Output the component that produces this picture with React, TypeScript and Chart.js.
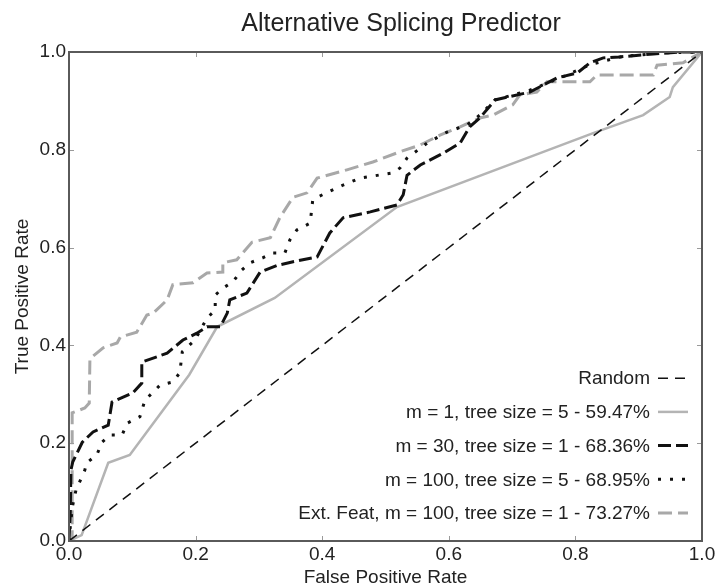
import React, { useEffect, useRef } from 'react';
import { Chart, registerables } from 'chart.js';

Chart.register(...registerables);

const FONT = '"Liberation Sans", Arial, Helvetica, sans-serif';

const chartTitle = 'Alternative Splicing Predictor';
const xAxisTitle = 'False Positive Rate';
const yAxisTitle = 'True Positive Rate';
const tickValues = [0, 0.2, 0.4, 0.6, 0.8, 1.0];

const seriesLabels = [
  'Random',
  'm = 1, tree size = 5 - 59.47%',
  'm = 30, tree size = 1 - 68.36%',
  'm = 100, tree size = 5 - 68.95%',
  'Ext. Feat, m = 100, tree size = 1 - 73.27%',
];

const randomX = [0, 1];
const randomY = [0, 1];

const m1X = [0, 0.02, 0.062, 0.096, 0.19, 0.234, 0.325, 0.518, 0.828, 0.907, 0.949, 0.954, 1];
const m1Y = [0, 0.012, 0.16, 0.176, 0.34, 0.438, 0.497, 0.683, 0.834, 0.871, 0.908, 0.928, 1];

const m30X = [0, 0.002, 0.003, 0.006, 0.021, 0.038, 0.062, 0.068, 0.101, 0.115, 0.115, 0.155, 0.18, 0.202, 0.218, 0.239, 0.25, 0.254, 0.281, 0.302, 0.33, 0.354, 0.392, 0.412, 0.433, 0.476, 0.518, 0.528, 0.534, 0.555, 0.591, 0.618, 0.633, 0.649, 0.673, 0.728, 0.771, 0.803, 0.823, 0.844, 0.87, 0.923, 0.965, 1];
const m30Y = [0, 0.06, 0.145, 0.162, 0.202, 0.223, 0.237, 0.284, 0.303, 0.323, 0.366, 0.384, 0.411, 0.425, 0.438, 0.438, 0.466, 0.493, 0.507, 0.55, 0.564, 0.571, 0.581, 0.63, 0.661, 0.673, 0.687, 0.708, 0.748, 0.769, 0.793, 0.814, 0.847, 0.865, 0.902, 0.918, 0.947, 0.957, 0.978, 0.988, 0.99, 0.996, 1, 1];

const m100X = [0, 0.003, 0.006, 0.011, 0.025, 0.028, 0.044, 0.052, 0.065, 0.084, 0.092, 0.112, 0.12, 0.144, 0.164, 0.175, 0.179, 0.199, 0.218, 0.231, 0.231, 0.243, 0.259, 0.273, 0.286, 0.306, 0.322, 0.341, 0.349, 0.36, 0.381, 0.385, 0.392, 0.433, 0.46, 0.512, 0.523, 0.534, 0.566, 0.597, 0.629, 0.649, 0.673, 0.728, 0.776, 0.823, 0.87, 0.934, 1];
const m100Y = [0, 0.043, 0.074, 0.104, 0.145, 0.16, 0.176, 0.202, 0.217, 0.217, 0.241, 0.254, 0.288, 0.319, 0.325, 0.344, 0.387, 0.411, 0.456, 0.472, 0.503, 0.517, 0.53, 0.554, 0.569, 0.579, 0.589, 0.589, 0.616, 0.636, 0.65, 0.697, 0.703, 0.728, 0.742, 0.753, 0.763, 0.783, 0.814, 0.836, 0.851, 0.871, 0.902, 0.922, 0.947, 0.974, 0.99, 0.998, 1];

const extX = [0, 0.005, 0.005, 0.025, 0.032, 0.033, 0.036, 0.054, 0.076, 0.081, 0.107, 0.123, 0.133, 0.155, 0.164, 0.196, 0.218, 0.243, 0.243, 0.265, 0.289, 0.318, 0.333, 0.354, 0.376, 0.392, 0.439, 0.48, 0.523, 0.555, 0.586, 0.618, 0.649, 0.67, 0.701, 0.712, 0.739, 0.755, 0.823, 0.834, 0.923, 0.929, 0.97, 1];
const extY = [0, 0, 0.262, 0.272, 0.282, 0.37, 0.376, 0.395, 0.405, 0.417, 0.427, 0.462, 0.466, 0.493, 0.524, 0.528, 0.548, 0.55, 0.569, 0.575, 0.611, 0.62, 0.661, 0.703, 0.712, 0.742, 0.759, 0.775, 0.796, 0.81, 0.83, 0.847, 0.865, 0.871, 0.892, 0.912, 0.918, 0.939, 0.939, 0.953, 0.953, 0.973, 0.978, 1];

const zip = (xs: number[], ys: number[]) => xs.map((x, i) => ({ x, y: ys[i] }));

const framePlugin = {
  id: 'mplFrame',
  afterDatasetsDraw(chart: any) {
    const { ctx, chartArea: a, scales } = chart;
    ctx.save();
    // inward ticks
    ctx.strokeStyle = '#9a9a9a';
    ctx.lineWidth = 1;
    const tl = 5;
    for (const v of tickValues) {
      const px = Math.round(scales.x.getPixelForValue(v)) + 0.5;
      const py = Math.round(scales.y.getPixelForValue(v)) + 0.5;
      ctx.beginPath();
      ctx.moveTo(px, a.bottom); ctx.lineTo(px, a.bottom - tl);
      ctx.moveTo(px, a.top); ctx.lineTo(px, a.top + tl);
      ctx.moveTo(a.left, py); ctx.lineTo(a.left + tl, py);
      ctx.moveTo(a.right, py); ctx.lineTo(a.right - tl, py);
      ctx.stroke();
    }
    // frame
    ctx.strokeStyle = '#5a5a5a';
    ctx.lineWidth = 2;
    ctx.strokeRect(a.left, a.top, a.right - a.left, a.bottom - a.top);
    ctx.restore();
  },
  afterDraw(chart: any) {
    const { ctx, chartArea: a } = chart;
    ctx.save();
    // title
    ctx.fillStyle = '#222';
    ctx.font = `25px ${FONT}`;
    ctx.textAlign = 'center';
    ctx.textBaseline = 'alphabetic';
    ctx.fillText(chartTitle, 401, 31);
    // legend (right aligned text, sample line on the right)
    const ds = chart.data.datasets;
    const rowH = 33.7;
    const lineEnd = a.right - 14;
    const lineStart = lineEnd - 30;
    const textRight = lineStart - 8;
    const lastY = a.bottom - 28;
    ctx.font = `19px ${FONT}`;
    ctx.textAlign = 'right';
    ctx.textBaseline = 'middle';
    ds.forEach((d: any, i: number) => {
      const y = lastY - (ds.length - 1 - i) * rowH;
      ctx.fillStyle = '#222';
      ctx.fillText(d.label, textRight, y + 1);
      ctx.beginPath();
      ctx.strokeStyle = d.borderColor;
      ctx.lineWidth = d.borderWidth;
      ctx.setLineDash(d.borderDash || []);
      ctx.lineCap = 'butt';
      ctx.moveTo(lineStart, y);
      ctx.lineTo(lineEnd, y);
      ctx.stroke();
      ctx.setLineDash([]);
    });
    ctx.restore();
  },
};

export default function App() {
  const ref = useRef<HTMLCanvasElement>(null);
  useEffect(() => {
    const common = { pointRadius: 0, fill: false, tension: 0, borderCapStyle: 'butt' as const, borderJoinStyle: 'miter' as const };
    const chart = new Chart(ref.current!, {
      type: 'line',
      data: {
        datasets: [
          { ...common, label: seriesLabels[0], data: zip(randomX, randomY), borderColor: '#111111', borderWidth: 1.5, borderDash: [10, 7], order: 0 },
          { ...common, label: seriesLabels[1], data: zip(m1X, m1Y), borderColor: '#b4b4b4', borderWidth: 2.5, borderDash: [], order: 4 },
          { ...common, label: seriesLabels[2], data: zip(m30X, m30Y), borderColor: '#111111', borderWidth: 3, borderDash: [13, 5], order: 2 },
          { ...common, label: seriesLabels[3], data: zip(m100X, m100Y), borderColor: '#111111', borderWidth: 3, borderDash: [3, 9], order: 1 },
          { ...common, label: seriesLabels[4], data: zip(extX, extY), borderColor: '#a8a8a8', borderWidth: 3, borderDash: [14, 6], order: 3 },
        ],
      },
      options: {
        responsive: false,
        animation: false,
        devicePixelRatio: 1,
        parsing: false as any,
        layout: { padding: { top: 52, right: 19, left: 0, bottom: 0 } },
        plugins: {
          legend: { display: false },
          title: { display: false },
          tooltip: { enabled: false },
        },
        scales: {
          x: {
            type: 'linear',
            min: 0,
            max: 1,
            afterFit: (s: any) => { s.height = 46; },
            border: { display: false },
            grid: { display: false, drawTicks: false, tickLength: 0 },
            ticks: {
              stepSize: 0.2,
              padding: 2,
              color: '#222',
              maxRotation: 0,
              autoSkip: false,
              font: { family: FONT, size: 19 },
              callback: (v: any) => Number(v).toFixed(1),
            },
            title: { display: true, text: xAxisTitle, color: '#222', font: { family: FONT, size: 19, lineHeight: 1 }, padding: { top: 0, bottom: 0 } },
          },
          y: {
            type: 'linear',
            min: 0,
            max: 1,
            afterFit: (s: any) => { s.width = 69; },
            border: { display: false },
            grid: { display: false, drawTicks: false, tickLength: 0 },
            ticks: {
              stepSize: 0.2,
              padding: 3,
              color: '#222',
              autoSkip: false,
              font: { family: FONT, size: 19 },
              callback: (v: any) => Number(v).toFixed(1),
            },
            title: { display: true, text: yAxisTitle, color: '#222', font: { family: FONT, size: 19, lineHeight: 1 }, padding: { top: 13, bottom: 0 } },
          },
        },
      },
      plugins: [framePlugin],
    });
    return () => chart.destroy();
  }, []);
  return (
    <div style={{ position: 'absolute', left: 0, top: 0, width: 721, height: 587, background: '#fff' }}>
      <canvas ref={ref} width={721} height={587} style={{ display: 'block' }} />
    </div>
  );
}
